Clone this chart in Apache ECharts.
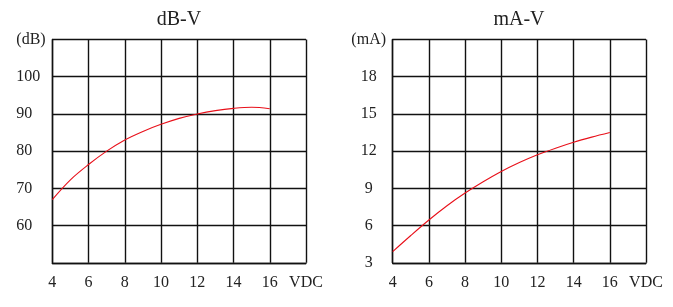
<!DOCTYPE html>
<html>
<head>
<meta charset="utf-8">
<script src="https://cdn.jsdelivr.net/npm/echarts@6/dist/echarts.min.js"></script>
<style>
html,body{margin:0;padding:0;background:#fff;}
#chart{width:673px;height:307px;}
</style>
</head>
<body>
<div id="chart"></div>
<script>
const voltage = [4, 5, 6, 7, 8, 9, 10, 11, 12, 13, 14, 15, 16];
const dbValues = [67.0, 72.3, 76.4, 80.0, 83.0, 85.3, 87.2, 88.8, 90.0, 90.9, 91.5, 91.8, 91.4];
const maValues = [3.9, 5.2, 6.45, 7.6, 8.62, 9.53, 10.36, 11.08, 11.71, 12.24, 12.72, 13.13, 13.5];
const xTickLabels = ['4', '6', '8', '10', '12', '14', '16', 'VDC'];
const dbTickLabels = ['', '60', '70', '80', '90', '100', '(dB)'];
const maTickLabels = ['3', '6', '9', '12', '15', '18', '(mA)'];
const titles = ['dB-V', 'mA-V'];

const FONT = '"Liberation Serif", "Times New Roman", serif';
const chart = echarts.init(document.getElementById('chart'), null, {renderer: 'canvas'});

function pairs(xs, ys) { return xs.map((x, i) => [x, ys[i]]); }
function labeler(list, min, step) {
  return v => { const i = Math.round((v - min) / step); return list[i] !== undefined ? list[i] : ''; };
}
const gridLine = {show: true, lineStyle: {color: '#111', width: 1.4}};

function xAxis(gi) {
  return {
    type: 'value', gridIndex: gi, min: 4, max: 18, interval: 2,
    axisLine: {show: true, lineStyle: {color: '#111', width: 1.4}},
    axisTick: {show: false},
    splitLine: gridLine,
    axisLabel: {
      margin: 12, color: '#222', fontFamily: FONT, fontSize: 16,
      formatter: labeler(xTickLabels, 4, 2)
    }
  };
}

const option = {
  animation: false,
  backgroundColor: '#fff',
  title: [
    {text: titles[0], left: 179, top: 10, textAlign: 'center', padding: 0,
     textStyle: {fontFamily: FONT, fontSize: 20, fontWeight: 'normal', color: '#222'}},
    {text: titles[1], left: 519, top: 10, textAlign: 'center', padding: 0,
     textStyle: {fontFamily: FONT, fontSize: 20, fontWeight: 'normal', color: '#222'}}
  ],
  grid: [
    {left: 52.3, top: 39.5, width: 253.7, height: 223.3, containLabel: false},
    {left: 392.7, top: 39.5, width: 253.3, height: 223.3, containLabel: false}
  ],
  xAxis: [xAxis(0), xAxis(1)],
  yAxis: [
    {type: 'value', gridIndex: 0, min: 50, max: 110, interval: 10,
     axisLine: {show: true, lineStyle: {color: '#111', width: 1.4}},
     axisTick: {show: false}, splitLine: gridLine,
     axisLabel: {margin: 36, align: 'left', color: '#222', fontFamily: FONT, fontSize: 16,
                 formatter: labeler(dbTickLabels, 50, 10)}},
    {type: 'value', gridIndex: 1, min: 3, max: 21, interval: 3,
     axisLine: {show: true, lineStyle: {color: '#111', width: 1.4}},
     axisTick: {show: false}, splitLine: gridLine,
     axisLabel: {margin: 24, align: 'center', color: '#222', fontFamily: FONT, fontSize: 16,
                 formatter: labeler(maTickLabels, 3, 3)}}
  ],
  series: [
    {type: 'line', xAxisIndex: 0, yAxisIndex: 0, data: pairs(voltage, dbValues),
     smooth: 0.35, symbol: 'none', lineStyle: {color: '#e8101a', width: 1.1}},
    {type: 'line', xAxisIndex: 1, yAxisIndex: 1, data: pairs(voltage, maValues),
     smooth: 0.35, symbol: 'none', lineStyle: {color: '#e8101a', width: 1.1}}
  ]
};
chart.setOption(option);
</script>
</body>
</html>
